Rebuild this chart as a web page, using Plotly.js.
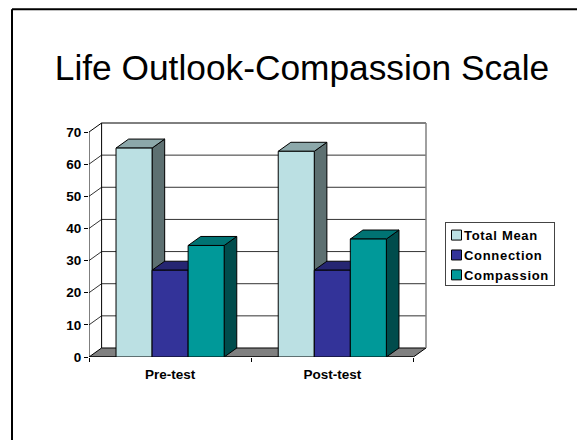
<!DOCTYPE html>
<html><head><meta charset="utf-8">
<script src="https://cdn.plot.ly/plotly-3.0.1.min.js"></script>
<style>html,body{margin:0;padding:0;background:#fff;overflow:hidden}
.legendtext{transform:translateX(-12.5px);letter-spacing:.7px}
.legend rect.bg{width:108.5px;height:63px;transform:translateY(3px)}
.legendpoints path{d:path("M5,5H-5V-5H5Z")}</style>
</head><body><div id="chart" style="width:577px;height:440px"></div>
<script>
const categories = ['Pre-test', 'Post-test'];
const seriesNames = ['Total Mean', 'Connection', 'Compassion'];
const totalMean = [65, 64];
const connection = [27, 27];
const compassion = [34.7, 36.7];
const yTicks = [0, 10, 20, 30, 40, 50, 60, 70];
const frontColors = ['#BBE0E3', '#333399', '#009999'];
const topColors = ['#8CA8AA', '#262672', '#007373'];
const sideColors = ['#5D7071', '#19194C', '#004C4C'];

const W = 577, H = 440;
const L = 89, R = 427, T = 121, B = 356.7;
const perCat = 162.2, perVal = 3.21;
const dxCat = 12.6 / perCat, dyVal = 9 / perVal;
const xMax = (R - L) / perCat, yMax = (B - T) / perVal;
const barW = (2 / 3) / 3;
const centers = categories.map((c, i) => i + 0.5);
const values = [totalMean, connection, compassion];

const poly = (xs, ys, fill, name) => ({
  type: 'scatter', mode: 'lines', x: xs, y: ys, fill: 'toself', fillcolor: fill,
  line: { color: '#000', width: 1 }, showlegend: false, hoverinfo: 'skip', xaxis: 'x', yaxis: 'y', name
});
const line = (xs, ys, color, w) => ({
  type: 'scatter', mode: 'lines', x: xs, y: ys, line: { color, width: w || 1 },
  showlegend: false, hoverinfo: 'skip', xaxis: 'x', yaxis: 'y'
});

const base = [];
yTicks.slice(1).forEach(v => {
  base.push(line([0, dxCat, 2 + dxCat], [v, v + dyVal, v + dyVal], v === 70 ? '#000' : '#333'));
});
base.push(poly([0, dxCat, 2 + dxCat, 2, 0], [0, dyVal, dyVal, 0, 0], '#808080', 'floor'));
base.push(line([dxCat, dxCat], [dyVal, 70 + dyVal], '#000'));
base.push(line([2 + dxCat, 2 + dxCat], [dyVal, 70 + dyVal], '#808080', 1.5));
base.push(line([0, 0], [0, 70], '#000'));
base.push(line([0, 2], [0, 0], '#000'));
centers.forEach((c, ci) => {
  values.forEach((vals, si) => {
    const x0 = c + (si - 1.5) * barW, x1 = x0 + barW, v = vals[ci];
    base.push(poly([x1, x1 + dxCat, x1 + dxCat, x1, x1], [0, dyVal, v + dyVal, v, 0], sideColors[si], 'side'));
    base.push(poly([x0, x1, x1 + dxCat, x0 + dxCat, x0], [v, v, v + dyVal, v + dyVal, v], topColors[si], 'top'));
  });
});
const bars = values.map((vals, si) => ({
  type: 'bar', name: seriesNames[si], x: centers, y: vals, xaxis: 'x2', yaxis: 'y2',
  marker: { color: frontColors[si], line: { color: '#000', width: 1 } }, hoverinfo: 'x+y+name'
}));
const axisFont = { family: 'Liberation Sans, Arial, sans-serif', size: 13.5, color: '#000' };
const layout = {
  width: W, height: H, autosize: false, paper_bgcolor: '#fff', plot_bgcolor: 'rgba(0,0,0,0)',
  margin: { l: L, r: W - R, t: T, b: H - B, pad: 0, autoexpand: false },
  barmode: 'group', bargap: 1 / 3, bargroupgap: 0,
  title: { text: 'Life Outlook-Compassion Scale', x: 302 / W, xref: 'container', xanchor: 'center',
    y: 1 - 68 / H, yanchor: 'middle', font: { family: 'Liberation Sans, Arial, sans-serif', size: 35.3, color: '#000' } },
  xaxis: { range: [0, xMax], tickmode: 'array', tickvals: centers, ticktext: categories.map(c => '<b>' + c + '</b>'),
    ticks: '', showgrid: false, zeroline: false, showline: false, tickfont: axisFont, ticklabelstandoff: 7,
    minor: { tickmode: 'array', tickvals: [0, 1, 2], ticks: 'outside', ticklen: 4, tickcolor: '#000', tickwidth: 1, showgrid: false } },
  yaxis: { range: [0, yMax], tickmode: 'array', tickvals: yTicks, ticktext: yTicks.map(v => '<b>' + v + '</b>'),
    ticks: 'outside', ticklen: 4, tickcolor: '#000', tickwidth: 1, showgrid: false, zeroline: false, showline: false, tickfont: axisFont },
  xaxis2: { overlaying: 'x', range: [0, xMax], visible: false, anchor: 'y2' },
  yaxis2: { overlaying: 'y', range: [0, yMax], visible: false, anchor: 'x2' },
  showlegend: true,
  legend: { x: (445 - L) / (R - L), xanchor: 'left', y: (B - 219) / (B - T), yanchor: 'top',
    bgcolor: '#fff', bordercolor: '#444', borderwidth: 1, indentation: -9.5,
    font: { family: 'Liberation Sans, Arial, sans-serif', size: 13, color: '#000', weight: 700 },
    traceorder: 'normal', itemwidth: 30, tracegroupgap: 0 },
  shapes: [
    { type: 'line', xref: 'paper', yref: 'paper', x0: (12 - L) / (R - L), x1: (577 - L) / (R - L), y0: (B - 9.5) / (B - T), y1: (B - 9.5) / (B - T), line: { color: '#000', width: 2 } },
    { type: 'line', xref: 'paper', yref: 'paper', x0: (12 - L) / (R - L), x1: (12 - L) / (R - L), y0: (B - 9.5) / (B - T), y1: (B - 440) / (B - T), line: { color: '#000', width: 2 } }
  ]
};
Plotly.newPlot('chart', base.concat(bars), layout, { displayModeBar: false, responsive: false });
</script></body></html>
